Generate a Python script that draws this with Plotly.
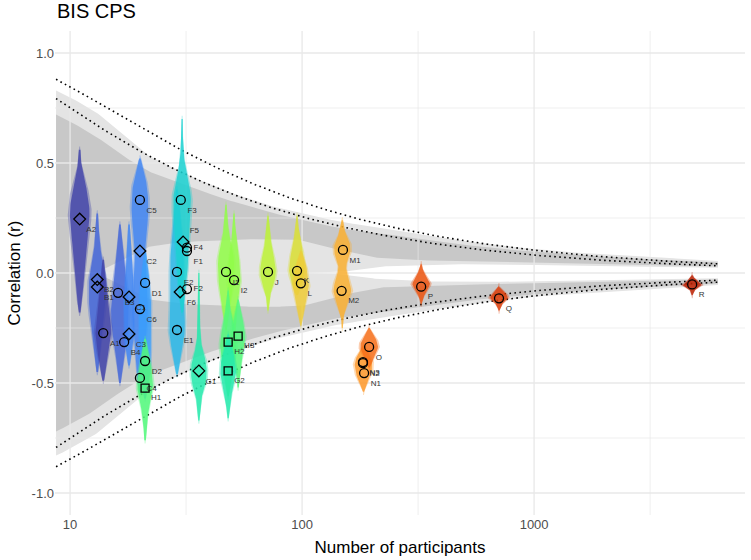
import numpy as np
import plotly.graph_objects as go
from plotly.colors import sample_colorscale

# ---------------- layout geometry ----------------
W, H = 751, 560
MARGIN = dict(l=55, r=6, t=31, b=45)
X_RANGE_LOG = [0.935, 3.909]
Y_RANGE = [-1.1, 1.1]
PX_PER_DECADE = (W - MARGIN['l'] - MARGIN['r']) / (X_RANGE_LOG[1] - X_RANGE_LOG[0])

# ---------------- funnel bands (upper half; mirrored) ----------------
FUNNEL_N = [8.7, 10, 13, 17, 22, 30, 45, 70, 100, 150, 220, 400, 700, 1200, 2000, 3500, 6200]
LIGHT_OUT = [.83, .80, .73, .63, .53, .46, .38, .31, .27, .23, .205, .16, .125, .10, .085, .07, .055]
DARK_OUT = [.72, .69, .62, .53, .46, .41, .34, .28, .24, .20, .18, .14, .11, .09, .075, .06, .048]
DARK_IN = [0, 0, 0, .06, .12, .14, .15, .155, .15, .10, .065, .055, .05, .045, .04, .035, .03]
WHITE_IN = [0, 0, 0, 0, 0, 0, 0, 0, 0, .005, .03, .04, .04, .035, .03, .028, .024]
# Fisher-z critical values for dotted reference lines (99% and 99.9%)
Z_CRIT = [2.576, 3.291]

# ---------------- studies: markers ----------------
LAB = ['A2', 'A1', 'B2', 'B1', 'B3', 'B4', 'C1', 'C3', 'C5', 'C2', 'C6', 'C4', 'D1', 'D2', 'H1',
       'E2', 'E1', 'F3', 'F5', 'F4', 'F1', 'F6', 'F2', 'G1', 'I1', 'I2', 'H2', 'H3', 'G2',
       'J', 'K', 'L', 'M1', 'M2', 'O', 'N3', 'N2', 'N1', 'P', 'Q', 'R']
NPART = [11.0, 13.9, 13.1, 13.1, 16.1, 17.1, 17.95, 17.95, 20.0, 20.0, 20.0, 20.0, 21.05, 21.05, 21.05,
         28.9, 28.9, 30.0, 30.7, 31.9, 31.9, 29.8, 31.9, 35.9, 47.0, 50.9, 48.0, 53.0, 48.0,
         71.3, 95.1, 98.8, 150, 148, 194.5, 183, 183, 185, 326, 706, 4800]
R_VAL = [0.245, -0.273, -0.03, -0.064, -0.09, -0.314, -0.109, -0.277, 0.332, 0.10, -0.164, -0.477, -0.045, -0.40, -0.523,
         0.005, -0.259, 0.332, 0.141, 0.115, 0.10, -0.086, -0.073, -0.445, 0.005, -0.032, -0.314, -0.287, -0.445,
         0.005, 0.01, -0.047, 0.105, -0.081, -0.336, -0.405, -0.41, -0.455, -0.062, -0.115, -0.052]
SYM = ['diamond', 'circle', 'diamond', 'diamond', 'circle', 'circle', 'diamond', 'diamond', 'circle', 'diamond',
       'circle', 'circle', 'circle', 'circle', 'square',
       'circle', 'circle', 'circle', 'diamond', 'circle', 'circle', 'diamond', 'circle', 'diamond', 'circle',
       'circle', 'square', 'square', 'square',
       'circle', 'circle', 'circle', 'circle', 'circle', 'circle', 'circle', 'circle', 'circle', 'circle',
       'circle', 'circle']
# label placement relative to marker (default bottom right)
TEXT_POS = {'F5': 'top right', 'F4': 'middle right', 'F1': 'bottom right', 'F2': 'middle right'}

# ---------------- violins (distribution shapes) ----------------
V_NAME = ['B12', 'B34', 'A2', 'A1', 'C13', 'C', 'D', 'E', 'F', 'G1', 'I1', 'I2', 'H2', 'H3', 'G2', 'H1',
          'J', 'K', 'L', 'M', 'N', 'O', 'P', 'Q', 'R']
V_N = [13.1, 16.4, 11.0, 13.9, 17.95, 20.0, 21.05, 28.9, 30.4, 35.9, 47.0, 50.9, 48.0, 53.0, 48.0, 21.05,
       71.3, 95.1, 98.8, 149, 184, 194.5, 326, 706, 4800]
V_T = [.12, .12, .07, .07, .17, .17, .21, .25, .29, .35, .48, .48, .41, .41, .35, .41,
       .54, .59, .63, .68, .72, .77, .81, .85, .91]
V_R = [
    [0.27, 0.20, 0.12, 0.05, -0.02, -0.09, -0.16, -0.24, -0.32, -0.40, -0.45],
    [0.22, 0.14, 0.06, -0.02, -0.10, -0.18, -0.26, -0.34, -0.42, -0.50],
    [0.56, 0.50, 0.44, 0.36, 0.28, 0.20, 0.12, 0.04, -0.04, -0.12, -0.18],
    [0.06, -0.02, -0.10, -0.18, -0.26, -0.32, -0.38, -0.44, -0.49],
    [0.22, 0.12, 0.02, -0.08, -0.18, -0.28, -0.36, -0.42],
    [0.52, 0.46, 0.40, 0.32, 0.24, 0.16, 0.08, 0.0, -0.08, -0.16, -0.24, -0.32, -0.40, -0.48, -0.54],
    [0.10, 0.02, -0.06, -0.14, -0.22, -0.30, -0.38, -0.46, -0.52, -0.57],
    [0.38, 0.28, 0.18, 0.08, 0.0, -0.08, -0.16, -0.24, -0.30, -0.38, -0.46],
    [0.70, 0.62, 0.55, 0.48, 0.42, 0.36, 0.30, 0.22, 0.14, 0.06, -0.02, -0.10, -0.18],
    [0.0, -0.10, -0.20, -0.28, -0.34, -0.40, -0.45, -0.50, -0.56, -0.62, -0.67],
    [0.31, 0.24, 0.18, 0.12, 0.06, 0.0, -0.06, -0.12, -0.18, -0.26],
    [0.27, 0.18, 0.10, 0.03, -0.04, -0.10, -0.16, -0.24, -0.32],
    [-0.08, -0.16, -0.22, -0.28, -0.33, -0.38, -0.44, -0.50, -0.56],
    [-0.12, -0.18, -0.24, -0.29, -0.34, -0.39, -0.45, -0.52],
    [-0.28, -0.34, -0.40, -0.45, -0.50, -0.56, -0.62, -0.66],
    [-0.30, -0.38, -0.45, -0.52, -0.58, -0.64, -0.70, -0.76],
    [0.26, 0.18, 0.11, 0.05, 0.0, -0.05, -0.10, -0.17],
    [0.26, 0.18, 0.12, 0.06, 0.01, -0.04, -0.10],
    [0.10, 0.04, -0.01, -0.06, -0.11, -0.17, -0.24],
    [0.24, 0.18, 0.13, 0.09, 0.04, 0.01, -0.03, -0.08, -0.12, -0.16, -0.20, -0.25],
    [-0.33, -0.37, -0.41, -0.45, -0.48, -0.51, -0.54],
    [-0.25, -0.28, -0.31, -0.34, -0.37, -0.40, -0.43],
    [0.04, 0.01, -0.02, -0.05, -0.08, -0.11, -0.14],
    [-0.06, -0.08, -0.10, -0.115, -0.13, -0.15, -0.17],
    [-0.01, -0.03, -0.045, -0.055, -0.065, -0.08, -0.10],
]
V_HW = [
    [0.8, 1.5, 3, 5, 8, 8.5, 8, 6, 4, 2, 0.8],
    [0.8, 2, 4, 6, 8, 9, 8, 5, 3, 0.8],
    [0.8, 1.5, 4, 8, 10, 9, 7, 5, 4, 2.5, 0.8],
    [0.8, 2, 4, 6, 8, 7, 5, 2.5, 0.8],
    [0.8, 2, 3.5, 5, 5, 5, 3, 0.8],
    [0.8, 4, 7, 8.5, 8, 6, 5, 6, 7, 8, 7, 5, 4, 3, 0.8],
    [0.8, 3, 5, 6, 6, 5.5, 6, 5, 3, 0.8],
    [0.8, 3, 5, 6.5, 7, 6.5, 7, 8, 7, 4, 0.8],
    [0.6, 0.8, 1.5, 3, 6, 8.5, 9, 8, 7, 6, 5, 3, 0.8],
    [0.6, 0.8, 1, 1.5, 3, 7, 8, 7, 3, 1.5, 0.6],
    [0.6, 1.5, 3, 6, 8, 8, 7, 5, 2.5, 0.6],
    [0.6, 1.5, 4, 6, 6.5, 5, 3, 1.5, 0.6],
    [0.6, 2, 5, 7, 8, 7, 5, 3, 0.6],
    [0.6, 3, 6, 7, 6, 4, 2, 0.6],
    [0.6, 4, 7, 8, 6, 3, 1.5, 0.6],
    [0.8, 4, 7, 8, 5, 3, 1.5, 0.8],
    [0.6, 2, 4, 7, 8, 6, 2, 0.6],
    [0.5, 2, 5, 7, 8, 6, 1],
    [0.5, 5, 7, 8, 6, 3, 0.5],
    [0.6, 3, 8, 8, 4, 4, 7, 9, 7, 4, 1, 0.5],
    [0.6, 6, 9, 8, 6, 3, 0.6],
    [0.6, 4, 8, 9, 6, 3, 0.6],
    [0.5, 2, 6, 9, 6, 2, 0.5],
    [0.5, 4, 8, 9, 5, 2, 0.5],
    [0.5, 3, 7, 9.5, 6, 2, 0.5],
]

# ---------------- axis ticks ----------------
X_MAJOR = [10, 100, 1000]
X_MINOR = [10 ** 1.5, 10 ** 2.5, 10 ** 3.5]
Y_MAJOR = [-1.0, -0.5, 0.0, 0.5, 1.0]
Y_MINOR = [-0.75, -0.25, 0.25, 0.75]
Y_TICKTEXT = ['-1.0', '-0.5', '0.0', '0.5', '1.0']

LIGHT = '#E4E4E4'
DARK = '#C8C8C8'
GRID = '#E8E8E8'
FONT = 'Liberation Sans, Arial, sans-serif'

fig = go.Figure()

# funnel bands on fine grid
fn = np.array(FUNNEL_N)
nf = np.logspace(np.log10(fn[0]), np.log10(fn[-1]), 300)
lg = np.log10(nf)
lo = np.interp(lg, np.log10(fn), LIGHT_OUT)
do = np.interp(lg, np.log10(fn), DARK_OUT)
di = np.interp(lg, np.log10(fn), DARK_IN)
wi = np.interp(lg, np.log10(fn), WHITE_IN)


def band(x, ytop, ybot, color):
    fig.add_trace(go.Scatter(x=np.concatenate([x, x[::-1]]),
                             y=np.concatenate([ytop, ybot[::-1]]),
                             fill='toself', fillcolor=color, line=dict(width=0),
                             mode='lines', hoverinfo='skip', showlegend=False))


band(nf, lo, -lo, LIGHT)
band(nf, do, di, DARK)
band(nf, -di, -do, DARK)
mask = wi > 0
band(nf[mask], wi[mask], -wi[mask], 'white')

# gridlines drawn above the bands
xl, xr = 10 ** X_RANGE_LOG[0], 10 ** X_RANGE_LOG[1]
for yv in Y_MINOR:
    fig.add_trace(go.Scatter(x=[xl, xr], y=[yv, yv], mode='lines', line=dict(color=GRID, width=0.7),
                             hoverinfo='skip', showlegend=False))
for yv in Y_MAJOR:
    fig.add_trace(go.Scatter(x=[xl, xr], y=[yv, yv], mode='lines', line=dict(color=GRID, width=1.3),
                             hoverinfo='skip', showlegend=False))
for xv in X_MINOR:
    fig.add_trace(go.Scatter(x=[xv, xv], y=Y_RANGE, mode='lines', line=dict(color=GRID, width=0.7),
                             hoverinfo='skip', showlegend=False))
for xv in X_MAJOR:
    fig.add_trace(go.Scatter(x=[xv, xv], y=Y_RANGE, mode='lines', line=dict(color=GRID, width=1.3),
                             hoverinfo='skip', showlegend=False))

# dotted reference lines
for z in Z_CRIT:
    rc = np.tanh(z / np.sqrt(nf - 3))
    for s in (1, -1):
        fig.add_trace(go.Scatter(x=nf, y=s * rc, mode='lines',
                                 line=dict(color='black', width=1.6, dash='1.6px,3.4px'),
                                 hoverinfo='skip', showlegend=False))


# violins: soft halo (scattered edge points) + denser core
def violin_poly(n0, rk, hk, scale, pad):
    rk = np.array(rk)[::-1]
    hk = np.array(hk)[::-1] * scale
    rr = np.linspace(rk[0] - pad, rk[-1] + pad, 90)
    hw = np.interp(rr, rk, hk, left=0.4, right=0.4)
    xr_ = n0 * 10 ** (hw / PX_PER_DECADE)
    xl_ = n0 * 10 ** (-hw / PX_PER_DECADE)
    return np.concatenate([xr_, xl_[::-1]]), np.concatenate([rr, rr[::-1]])


for name, n0, t, rk, hk in zip(V_NAME, V_N, V_T, V_R, V_HW):
    col = sample_colorscale('Turbo', [t])[0]
    hx, hy = violin_poly(n0, rk, hk, 1.22, 0.015)
    fig.add_trace(go.Scatter(x=hx, y=hy, fill='toself', fillcolor=col, opacity=0.35,
                             line=dict(width=0), mode='lines', hoverinfo='skip', showlegend=False))
    cx, cy = violin_poly(n0, rk, hk, 1.0, 0.0)
    fig.add_trace(go.Scatter(x=cx, y=cy, fill='toself', fillcolor=col, opacity=0.8,
                             line=dict(width=0), mode='lines', name=name, hoverinfo='skip',
                             showlegend=False))

# study markers with labels
for sym in ['circle', 'diamond', 'square']:
    idx = [i for i, s in enumerate(SYM) if s == sym]
    fig.add_trace(go.Scatter(
        x=[NPART[i] for i in idx], y=[R_VAL[i] for i in idx], text=[LAB[i] for i in idx],
        mode='markers+text', textposition=[TEXT_POS.get(LAB[i], 'bottom right') for i in idx],
        textfont=dict(size=8, color='#333333', family=FONT),
        marker=dict(symbol=sym + '-open', size=9 if sym != 'square' else 8, color='black',
                    line=dict(width=1.3, color='black')),
        showlegend=False, hoverinfo='skip'))

fig.update_layout(
    width=W, height=H, margin=MARGIN,
    paper_bgcolor='white', plot_bgcolor='white',
    font=dict(family=FONT, color='black'),
    title=dict(text='BIS CPS', x=57 / W, xanchor='left', xref='container', y=1 - 11 / H, yanchor='middle',
               font=dict(size=20, color='black', family=FONT)),
    xaxis=dict(type='log', range=X_RANGE_LOG, tickvals=X_MAJOR, ticktext=['10', '100', '1000'],
               showgrid=False, zeroline=False, showline=False, ticks='',
               tickfont=dict(size=13, color='#4D4D4D'),
               title=dict(text='Number of participants', font=dict(size=17, color='black'), standoff=10)),
    yaxis=dict(range=Y_RANGE, tickvals=Y_MAJOR, ticktext=Y_TICKTEXT,
               showgrid=False, zeroline=False, showline=False, ticks='',
               tickfont=dict(size=13, color='#4D4D4D'),
               title=dict(text='Correlation (r)', font=dict(size=17, color='black'), standoff=6)),
)

fig.write_html('out.html')
